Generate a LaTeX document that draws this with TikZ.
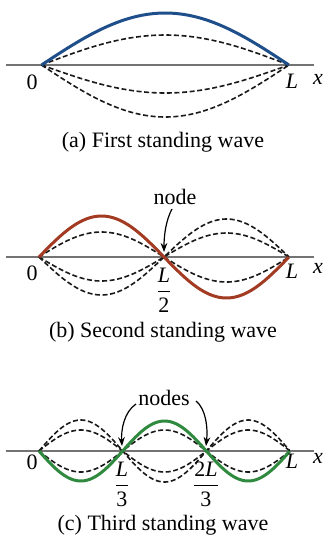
\documentclass[tikz,border=0pt]{standalone}
\usepackage{fontspec}
\setmainfont{Liberation Serif}
\usetikzlibrary{arrows.meta}
\definecolor{wblue}{HTML}{1F4F8A}
\definecolor{wred}{HTML}{A33A22}
\definecolor{wgreen}{HTML}{2F8A3F}
\begin{document}
\begin{tikzpicture}[x=0.5pt,y=-0.5pt,
  font=\fontsize{11}{13}\selectfont,
  axisline/.style={draw=black!55, line width=0.75pt},
  dsh/.style={draw=black!90, line width=0.8pt, dash pattern=on 2.5pt off 1.3pt},
  wv/.style={line width=1.5pt},
  lbl/.style={inner sep=0pt},
  arr/.style={-{Stealth[length=4.5pt,width=3.4pt]}, line width=0.6pt}]
\useasboundingbox (0,0) rectangle (326,543);

% ---------- (a) ----------
\draw[axisline] (6,65) -- (314,65);
\foreach \A in {30,-28,-52}
  \draw[dsh] plot[domain=0:1,samples=60] ({41.5+247.5*\x},{65-(\A)*sin(180*\x)});
\draw[wv,wblue] plot[domain=0:1,samples=60] ({41.5+247.5*\x},{65-52*sin(180*\x)});
\node[lbl] (z1) at (32,82) {0};
\node[lbl] (L1) at (292,81) {\textit{L}};
\node[lbl] (x1) at (318,79) {\textit{x}};
\node[lbl] (cap1) at (163,142) {(a) First standing wave};

% ---------- (b) ----------
\draw[axisline] (6,257) -- (314,257);
\foreach \A in {25,-24,-38}
  \draw[dsh] plot[domain=0:1,samples=80] ({39+250*\x},{257-(\A)*sin(360*\x)});
\draw[wv,wred] plot[domain=0:1,samples=80] ({39+250*\x},{257-41*sin(360*\x)});
\node[lbl] (z2) at (32,273) {0};
\node[lbl] (L2) at (292,271) {\textit{L}};
\node[lbl] (x2) at (318,268) {\textit{x}};
\node[lbl] (half) at (164,290) {$\displaystyle\frac{\hbox{\textit{L}}}{\hbox{2}}$};
\node[lbl] (nd) at (175,197) {node};
\coordinate (n2) at (164,252);
\draw[arr] (172,209) .. controls (166,220) and (164,235) .. (n2);
\node[lbl] (cap2) at (163,332) {(b) Second standing wave};

% ---------- (c) ----------
\draw[axisline] (6,451) -- (314,451);
\foreach \A in {21,31,-21}
  \draw[dsh] plot[domain=0:1,samples=100] ({39+251*\x},{451-(\A)*sin(540*\x)});
\draw[wv,wgreen] plot[domain=0:1,samples=100] ({39+251*\x},{451+30*sin(540*\x)});
\node[lbl] (z3) at (32,462) {0};
\node[lbl] (L3) at (292,461) {\textit{L}};
\node[lbl] (x3) at (318,458) {\textit{x}};
\node[lbl] (third) at (122,484) {$\displaystyle\frac{\hbox{\textit{L}}}{\hbox{3}}$};
\node[lbl] (twothird) at (206,484) {$\displaystyle\frac{\hbox{2\textit{L}}}{\hbox{3}}$};
\node[lbl] (nds) at (164,398) {nodes};
\coordinate (n3a) at (122,446);
\coordinate (n3b) at (206,446);
\draw[arr] (136,404) .. controls (124,412) and (121,430) .. (n3a);
\draw[arr] (196,401) .. controls (206,409) and (208,428) .. (n3b);
\node[lbl] (cap3) at (163,525) {(c) Third standing wave};
\end{tikzpicture}
\end{document}
